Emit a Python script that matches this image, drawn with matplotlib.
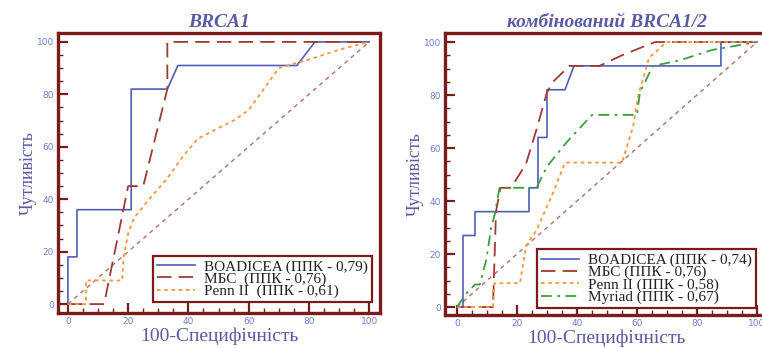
import numpy as np
import matplotlib.pyplot as plt
from matplotlib.ticker import MultipleLocator

# ---- data (100-specificity, sensitivity) ----
# BRCA1 panel
b1_boad_x = [0, 0, 3, 3, 21, 21, 33, 36.5, 76, 82, 100]
b1_boad_y = [0, 18, 18, 36, 36, 82, 82, 91, 91, 100, 100]
b1_mbs_x = [0, 10, 12, 20, 25, 33, 33, 100]
b1_mbs_y = [0, 0, 0, 45, 45, 82, 100, 100]
b1_penn_x = [0, 6, 6, 18, 18.5, 20, 22, 27, 33, 38, 43, 48, 55, 60, 65, 70, 76, 82, 90, 100]
b1_penn_y = [0, 0, 9, 9, 18, 27, 33, 40, 48, 56, 63, 66, 70, 74, 82, 90, 92, 94, 97, 100]

# combined BRCA1/2 panel
b12_boad_x = [0, 2, 2, 6, 6, 24, 24, 27, 27, 30, 30, 36, 39, 88, 88, 100]
b12_boad_y = [0, 0, 27, 27, 36, 36, 45, 45, 64, 64, 82, 82, 91, 91, 100, 100]
b12_mbs_x = [0, 12, 13, 14.5, 18, 23, 26.5, 30, 32, 37.5, 47.5, 55, 66, 100]
b12_mbs_y = [0, 0, 36, 45, 45, 54, 67, 81, 85, 91, 91, 95, 100, 100]
b12_penn_x = [0, 12, 12.5, 21, 23, 26.5, 32, 36, 55, 58.7, 60.3, 62, 64, 69.8, 100]
b12_penn_y = [0, 0, 9, 9, 23, 29, 43, 54.5, 54.5, 68, 79, 86, 94, 100, 100]
b12_myr_x = [0, 3, 6, 7.6, 9.8, 11.4, 12.6, 14.2, 26.5, 30, 36.4, 45, 60, 61, 65.3, 74, 85, 100]
b12_myr_y = [0, 5, 8.5, 8.5, 18, 30, 35, 45, 45, 53, 62, 72.5, 72.5, 81, 91, 93, 97, 100]

labels_b1 = ["BOADICEA (ППК - 0,79)", "МБС  (ППК - 0,76)", "Penn II  (ППК - 0,61)"]
labels_b12 = ["BOADICEA (ППК - 0,74)", "МБС (ППК - 0,76)", "Penn II (ППК - 0,58)",
              "Myriad (ППК - 0,67)"]

C_BOAD = "#4f5fb8"
C_MBS = "#a03a34"
C_PENN = "#f7963c"
C_MYR = "#3a9e3a"
C_DIAG = "#b66a6a"
C_FRAME = "#7b1c1c"
C_TEXT = "#5a5aa6"
C_TICK = "#6f7fd0"

serif = ["Liberation Serif", "DejaVu Serif"]

fig = plt.figure(figsize=(7.62, 3.48), dpi=100)


def style_axes(ax, xlim, ylim, title):
    ax.set_xlim(*xlim)
    ax.set_ylim(*ylim)
    for s in ax.spines.values():
        s.set_color(C_FRAME)
        s.set_linewidth(2.4)
    ax.xaxis.set_major_locator(MultipleLocator(20))
    ax.yaxis.set_major_locator(MultipleLocator(20))
    ax.xaxis.set_minor_locator(MultipleLocator(5))
    ax.yaxis.set_minor_locator(MultipleLocator(5))
    ax.tick_params(which="both", direction="in", color=C_FRAME, top=False, right=False)
    ax.tick_params(which="major", length=7, width=1.6, labelsize=6.5,
                   labelcolor=C_TICK, pad=3)
    ax.tick_params(which="minor", length=3.5, width=1.0)
    ax.set_title(title, fontsize=14, fontweight="bold", style="italic",
                 family=serif, color=C_TEXT, pad=4)
    ax.set_xlabel("100-Специфічність", fontsize=14, family=serif, color=C_TEXT, labelpad=1)
    ax.set_ylabel("Чутливість", fontsize=13, family=serif, color=C_TEXT, labelpad=0)
    ax.plot([0, 100], [0, 100], color=C_DIAG, lw=1.0, dashes=(3, 3))


def add_legend(ax, loc, anchor):
    leg = ax.legend(loc=loc, bbox_to_anchor=anchor, prop={"family": serif, "size": 11},
                    frameon=True, fancybox=False, framealpha=1, borderpad=0.25,
                    labelspacing=-0.1, handlelength=2.5, handletextpad=0.6,
                    borderaxespad=0)
    leg.get_frame().set_edgecolor(C_FRAME)
    leg.get_frame().set_linewidth(1.6)
    for t in leg.get_texts():
        t.set_color("#222222")


# left panel
ax1 = fig.add_axes([0.0761, 0.1006, 0.4226, 0.8046])
style_axes(ax1, (-3.3, 103.6), (-3.4, 103.4), "BRCA1")
ax1.plot(b1_boad_x, b1_boad_y, color=C_BOAD, lw=1.2, label=labels_b1[0])
ax1.plot(b1_mbs_x, b1_mbs_y, color=C_MBS, lw=1.3, dashes=(8, 4), label=labels_b1[1])
ax1.plot(b1_penn_x, b1_penn_y, color=C_PENN, lw=1.3, dashes=(2, 2), label=labels_b1[2])
add_legend(ax1, "lower right", (0.975, 0.039))

# right panel
ax2 = fig.add_axes([0.584, 0.0948, 0.4239, 0.8103])
style_axes(ax2, (-4, 103.7), (-3.0, 103.4), "комбінований BRCA1/2")
ax2.plot(b12_boad_x, b12_boad_y, color=C_BOAD, lw=1.2, label=labels_b12[0])
ax2.plot(b12_mbs_x, b12_mbs_y, color=C_MBS, lw=1.3, dashes=(8, 4), label=labels_b12[1])
ax2.plot(b12_penn_x, b12_penn_y, color=C_PENN, lw=1.3, dashes=(2, 2), label=labels_b12[2])
ax2.plot(b12_myr_x, b12_myr_y, color=C_MYR, lw=1.3, dashes=(6, 3, 1.5, 3), label=labels_b12[3])
add_legend(ax2, "lower left", (0.285, 0.025))

fig.savefig("out.png", dpi=100)
